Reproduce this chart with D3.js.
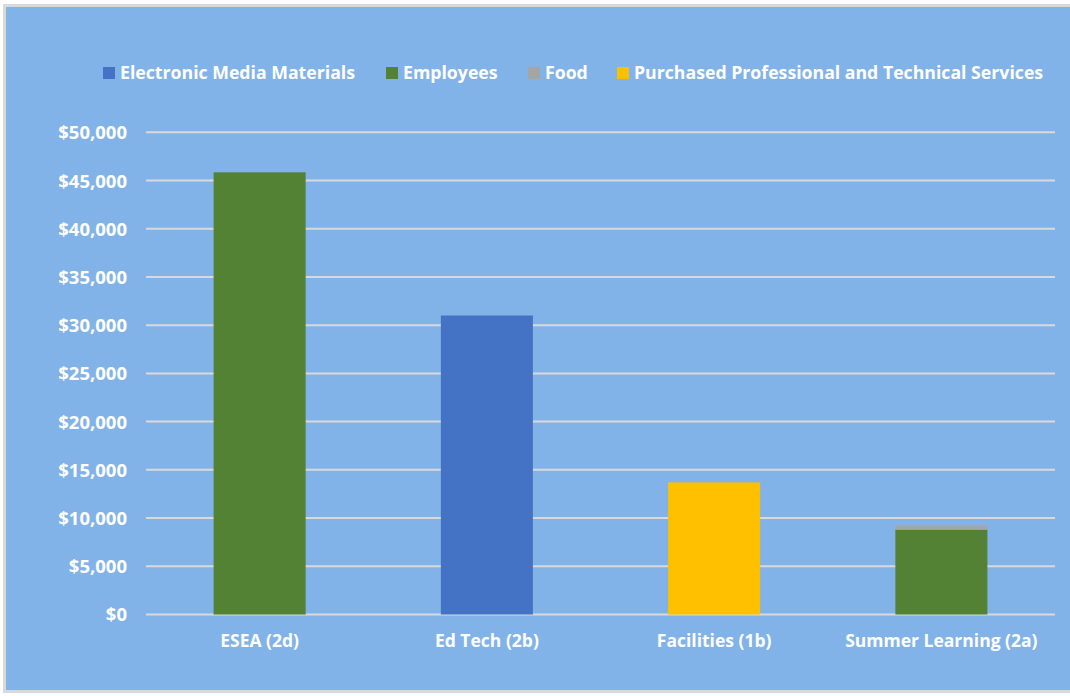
<!DOCTYPE html>
<html><head><meta charset="utf-8">
<script src="https://cdn.jsdelivr.net/npm/d3@7"></script>
<style>body{margin:0;background:#fff}svg{display:block}text{font-family:"Open Sans",Lato,sans-serif;font-weight:bold;fill:#fff}</style>
</head><body><svg id="c" width="1070" height="696"></svg>
<script>
const categories = ["ESEA (2d)", "Ed Tech (2b)", "Facilities (1b)", "Summer Learning (2a)"];
const seriesNames = ["Electronic Media Materials", "Employees", "Food", "Purchased Professional and Technical Services"];
const electronicMedia = [0, 31000, 0, 0];
const employees = [45850, 0, 0, 8800];
const food = [0, 0, 0, 430];
const purchasedServices = [0, 0, 13700, 0];
const yTicks = [0, 5000, 10000, 15000, 20000, 25000, 30000, 35000, 40000, 45000, 50000];
const colors = ["#4472C4", "#548235", "#A5A5A5", "#FFC000"];

const FONT = "'Open Sans',Lato,sans-serif";
const svg = d3.select("#c");
svg.append("rect").attr("x",4.5).attr("y",5.5).attr("width",1070).attr("height",686)
  .attr("fill","#82B3E8").attr("stroke","#D9D9D9").attr("stroke-width",3);

const x0 = 146, x1 = 1055, yTop = 132.3, yBot = 614.5;
const x = d3.scaleBand().domain(categories).range([x0, x1]).paddingInner(0.595).paddingOuter(0.2975);
const y = d3.scaleLinear().domain([0, 50000]).range([yBot, yTop]);

const table = categories.map((c,i)=>({cat:c, [seriesNames[0]]:electronicMedia[i], [seriesNames[1]]:employees[i], [seriesNames[2]]:food[i], [seriesNames[3]]:purchasedServices[i]}));
const stacked = d3.stack().keys(seriesNames)(table);

svg.append("g").selectAll("line").data(yTicks).join("line")
  .attr("x1",x0).attr("x2",x1).attr("y1",d=>y(d)).attr("y2",d=>y(d))
  .attr("stroke","#D9D9D9").attr("stroke-width",2);

const yAxis = d3.axisLeft(y).tickValues(yTicks).tickSize(0).tickPadding(0).tickFormat(d=>"$"+d3.format(",")(d));
const ya = svg.append("g").attr("transform",`translate(127,0)`).call(yAxis);
ya.select(".domain").remove();
ya.selectAll("text").attr("font-size",18.5).attr("fill","#fff").attr("dy","0.35em").style("font-family",FONT).style("font-weight","bold");

svg.append("g").selectAll("g").data(stacked).join("g").attr("fill",(d,i)=>colors[i])
  .selectAll("rect").data(d=>d).join("rect")
  .attr("x",d=>x(d.data.cat)).attr("width",x.bandwidth())
  .attr("y",d=>y(d[1])).attr("height",d=>y(d[0])-y(d[1]));

const xAxis = d3.axisBottom(x).tickSize(0).tickPadding(0);
const xa = svg.append("g").attr("transform",`translate(0,${yBot+20})`).call(xAxis);
xa.select(".domain").remove();
xa.selectAll("text").attr("font-size",17.5).attr("fill","#fff").attr("dy","0.71em").style("font-family",FONT).style("font-weight","bold");

const legendX = [103, 386, 528, 617];
const lg = svg.append("g").selectAll("g").data(seriesNames).join("g")
  .attr("transform",(d,i)=>`translate(${legendX[i]},73)`);
lg.append("rect").attr("x",0).attr("y",-6).attr("width",12).attr("height",12).attr("fill",(d,i)=>colors[i]);
lg.append("text").attr("x",17).attr("dy","0.35em").attr("font-size",17.7).text(d=>d);
</script></body></html>
